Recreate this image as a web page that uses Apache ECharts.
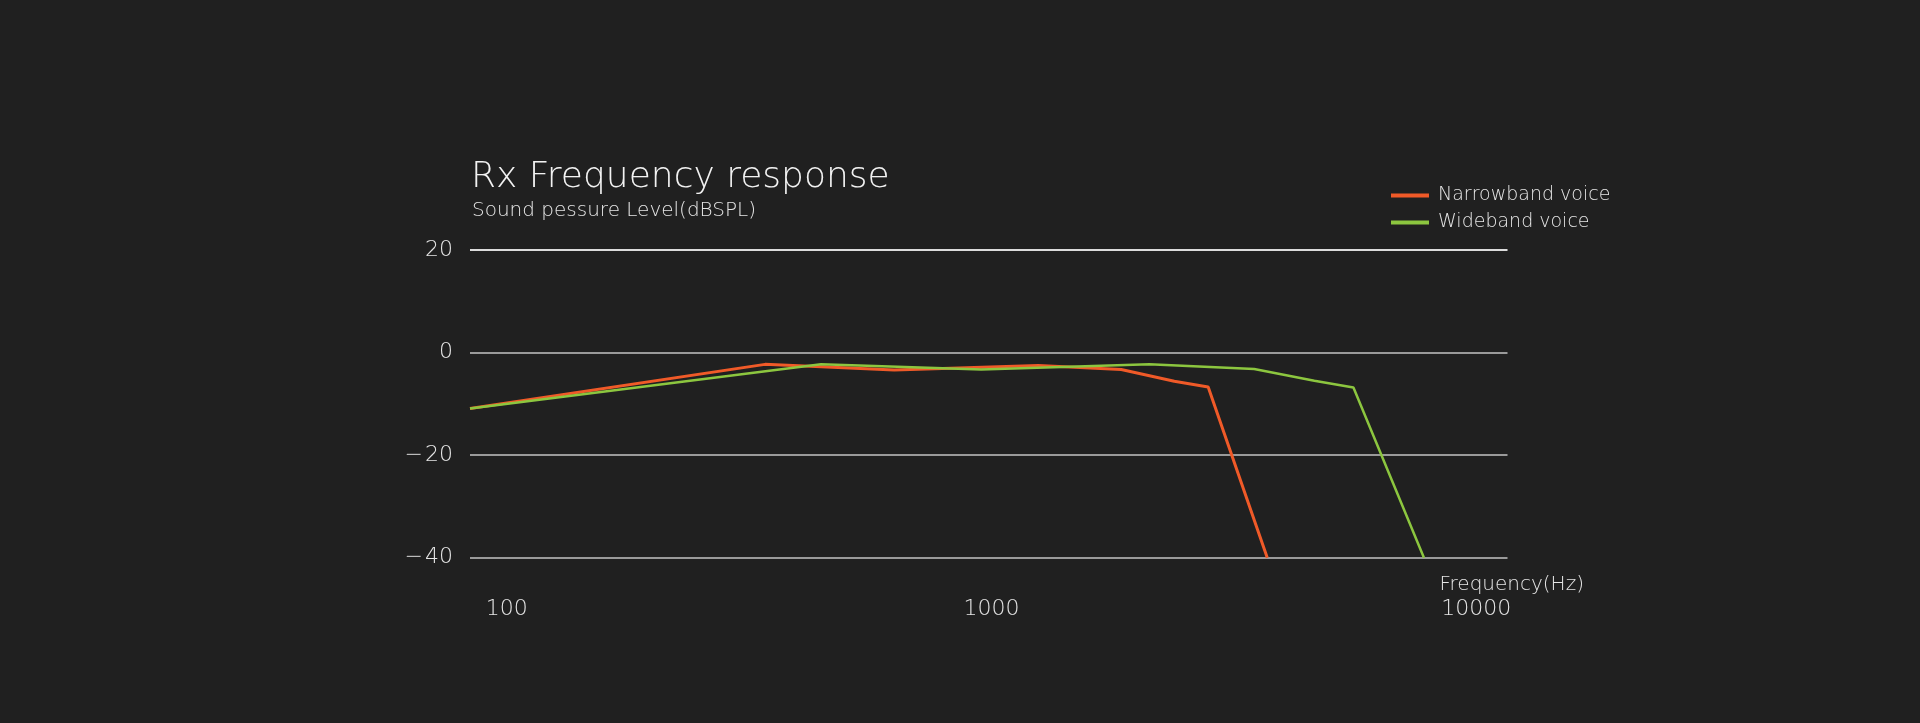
<!DOCTYPE html>
<html>
<head>
<meta charset="utf-8">
<script src="https://cdn.jsdelivr.net/npm/echarts@6/dist/echarts.min.js"></script>
<style>
  html, body { margin: 0; padding: 0; background: #202020; }
  #chart { width: 1920px; height: 723px; }
</style>
</head>
<body>
<div id="chart"></div>
<script>
// ---- data ----
const titleText = 'Rx Frequency response';
const subtitleText = 'Sound pessure Level(dBSPL)';
const xAxisName = 'Frequency(Hz)';
const seriesNames = ['Narrowband voice', 'Wideband voice'];
const narrowbandFreq = [84, 341, 630, 1249, 1852, 2383, 2799, 3706];
const narrowbandLevel = [-10.9, -2.3, -3.4, -2.5, -3.3, -5.6, -6.7, -40];
const widebandFreq = [84, 445, 952, 2116, 3483, 4634, 5580, 7800];
const widebandLevel = [-10.9, -2.3, -3.3, -2.3, -3.2, -5.5, -6.8, -40];
const xTickLabels = [100, 1000, 10000];
const yTicks = [-40, -20, 0, 20];

const FONT = "'DejaVu Sans', 'Open Sans', sans-serif";
const W = 200;

function pairs(xs, ys) { return xs.map((x, i) => [x, ys[i]]); }

const chart = echarts.init(document.getElementById('chart'));
chart.setOption({
  backgroundColor: '#202020',
  animation: false,
  title: [
    { text: titleText, left: 471, top: 160, padding: 0,
      textStyle: { color: '#f2f2f2', fontFamily: FONT, fontWeight: W, fontSize: 36 } },
    { text: subtitleText, left: 472, top: 201, padding: 0,
      textStyle: { color: '#e6e6e6', fontFamily: FONT, fontWeight: W, fontSize: 20 } }
  ],
  legend: {
    orient: 'vertical', left: 1391, top: 185, padding: 0,
    itemWidth: 38, itemHeight: 4, itemGap: 6, icon: 'rect',
    textStyle: { color: '#e6e6e6', fontFamily: FONT, fontWeight: W, fontSize: 19, lineHeight: 21, padding: [0, 0, 0, 4] },
    data: seriesNames
  },
  grid: { left: 470, right: 412.5, top: 250, bottom: 165.3, containLabel: false },
  xAxis: {
    type: 'log', logBase: 10, min: 84, max: 11600,
    axisLine: { show: false, onZero: false }, axisTick: { show: false }, splitLine: { show: false },
    axisLabel: {
      margin: 41, color: '#e6e6e6', fontFamily: FONT, fontWeight: W, fontSize: 22,
      showMinLabel: false, showMaxLabel: false,
      formatter: v => xTickLabels.some(t => Math.abs(t - v) < 1e-6 * t) ? String(Math.round(v)) : ''
    },
    name: xAxisName, nameLocation: 'end', nameGap: -68,
    nameTextStyle: { color: '#e6e6e6', fontFamily: FONT, fontWeight: W, fontSize: 20, align: 'left', verticalAlign: 'top', padding: [17, 0, 0, 0] }
  },
  yAxis: {
    type: 'value', min: yTicks[0], max: yTicks[yTicks.length - 1], interval: 20,
    axisLine: { show: false }, axisTick: { show: false },
    axisLabel: {
      margin: 17, color: '#e6e6e6', fontFamily: FONT, fontWeight: W, fontSize: 22,
      formatter: v => v < 0 ? '\u2212\u200a' + Math.abs(v) : String(v)
    },
    splitLine: { lineStyle: { color: ['#9a9a9a', '#9a9a9a', '#9a9a9a', '#dcdcdc'], width: 2 } }
  },
  series: [
    { name: seriesNames[0], type: 'line', data: pairs(narrowbandFreq, narrowbandLevel),
      showSymbol: false, symbol: 'none', color: '#f05a28', lineStyle: { color: '#f05a28', width: 3 } },
    { name: seriesNames[1], type: 'line', data: pairs(widebandFreq, widebandLevel),
      showSymbol: false, symbol: 'none', color: '#8cc63f', lineStyle: { color: '#8cc63f', width: 2.5 } }
  ]
});
</script>
</body>
</html>
